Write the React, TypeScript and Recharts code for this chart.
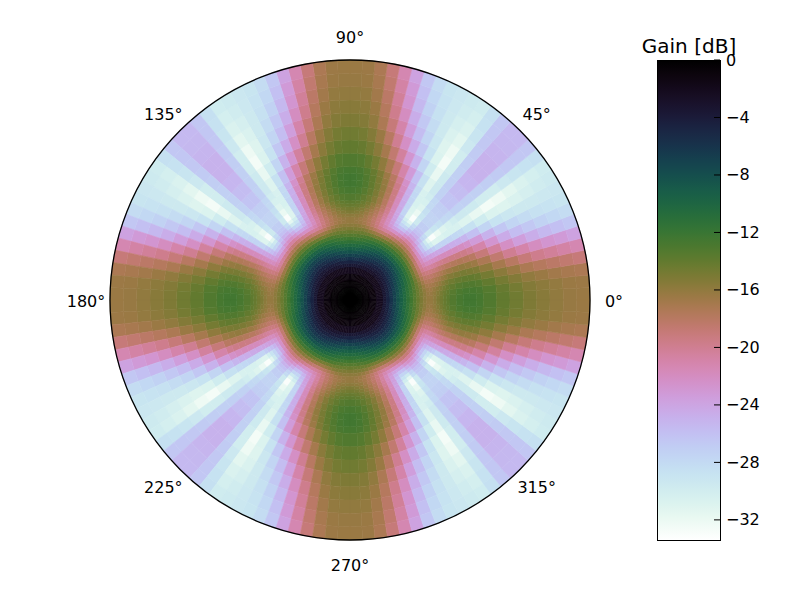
import React from 'react'
import {
  PieChart,
  Pie,
  Cell,
  RadarChart,
  PolarAngleAxis,
  PolarRadiusAxis,
  BarChart,
  Bar,
  XAxis,
  YAxis,
} from 'recharts'

const FONT = '"DejaVu Sans", sans-serif'
const CENTER_X = 350
const CENTER_Y = 300
const OUTER_RADIUS = 240

const GAIN_MIN = -33.4
const GAIN_MAX = 0

// tick labels
const angleTicks = [0, 45, 90, 135, 180, 225, 270, 315]
const radiusTicks = [10, 20, 30, 40, 50, 60, 70, 80, 90]
const gainTicks = [0, -4, -8, -12, -16, -20, -24, -28, -32]

// outer edge of each ring, in degrees off boresight
const ringEdges = [
  2.5, 5, 7.5, 10, 12.5,
  13.75, 15, 16.25, 17.5, 18.75, 20, 21.25, 22.5, 23.75, 25,
  26.25, 27.5, 28.75, 30, 31.25, 32.5, 33.75, 35, 36.25, 37.5,
  40, 42.5, 45, 47.5, 50,
  55, 60, 65, 70, 75, 80, 85, 90,
]

// width of one sector in degrees, the table covers 0-45 and the rest is mirrored
const SECTOR_SPAN = 3

// gain in dB, one row per ring, one column per sector from 0 to 45 deg
const ringGains = [
  [-0.02, -0.02, -0.02, -0.02, -0.02, -0.02, -0.02, -0.02, -0.02, -0.02, -0.02, -0.02, -0.02, -0.02, -0.02],
  [-0.15, -0.15, -0.15, -0.15, -0.15, -0.15, -0.15, -0.15, -0.15, -0.15, -0.15, -0.15, -0.15, -0.15, -0.15],
  [-0.4, -0.4, -0.4, -0.4, -0.4, -0.4, -0.4, -0.4, -0.4, -0.4, -0.4, -0.4, -0.4, -0.4, -0.4],
  [-1, -1, -1, -1, -1, -0.95, -0.95, -0.9, -0.9, -0.9, -0.85, -0.85, -0.85, -0.85, -0.85],
  [-2.2, -2.2, -2.2, -2.2, -2.15, -2.1, -2.1, -2.05, -2, -2, -1.95, -1.95, -1.9, -1.9, -1.9],
  [-3.6, -3.6, -3.55, -3.5, -3.45, -3.35, -3.3, -3.2, -3.1, -3.05, -2.95, -2.9, -2.85, -2.8, -2.8],
  [-4.7, -4.7, -4.65, -4.55, -4.45, -4.35, -4.2, -4.1, -4, -3.85, -3.75, -3.65, -3.6, -3.55, -3.5],
  [-5.9, -5.9, -5.8, -5.7, -5.6, -5.4, -5.25, -5.1, -4.95, -4.8, -4.6, -4.5, -4.4, -4.35, -4.3],
  [-7.1, -7.1, -7, -6.9, -6.7, -6.5, -6.35, -6.15, -6, -5.8, -5.6, -5.45, -5.35, -5.25, -5.2],
  [-8.3, -8.3, -8.2, -8, -7.85, -7.65, -7.4, -7.2, -7, -6.75, -6.55, -6.4, -6.25, -6.15, -6.1],
  [-9.4, -9.4, -9.3, -9.1, -8.95, -8.7, -8.5, -8.25, -8, -7.8, -7.55, -7.4, -7.25, -7.15, -7.1],
  [-10.4, -10.4, -10.3, -10.15, -9.95, -9.75, -9.5, -9.3, -9.1, -8.85, -8.65, -8.5, -8.35, -8.25, -8.2],
  [-11.4, -11.4, -11.3, -11.15, -11, -10.75, -10.55, -10.35, -10.15, -9.95, -9.75, -9.65, -9.6, -9.55, -9.55],
  [-12.4, -12.4, -12.3, -12.15, -12, -11.8, -11.65, -11.5, -11.35, -11.2, -11.1, -11, -10.95, -10.9, -10.9],
  [-13.4, -13.4, -13.3, -13.2, -13.1, -13, -12.9, -12.8, -12.7, -12.6, -12.5, -12.4, -12.35, -12.3, -12.3],
  [-14.3, -14.3, -14.3, -14.3, -14.4, -14.5, -14.7, -14.8, -14.7, -14.5, -14.3, -14.1, -14, -13.9, -13.8],
  [-15.1, -15.1, -15.1, -15.2, -15.5, -15.9, -16.2, -16.5, -16.5, -16.4, -16.2, -15.9, -15.7, -15.5, -15.4],
  [-15.8, -15.8, -15.9, -16.2, -16.7, -17.3, -17.9, -18.4, -18.6, -18.6, -18.3, -17.9, -17.6, -17.3, -17.1],
  [-16.2, -16.3, -16.5, -16.9, -17.5, -18.2, -19, -19.8, -20.3, -20.5, -20.3, -20, -19.6, -19.2, -18.9],
  [-16.2, -16.3, -16.6, -17, -17.6, -18.4, -19.3, -20.4, -21.3, -22, -22.3, -22.2, -21.8, -21, -20.6],
  [-15.8, -15.9, -16.2, -16.8, -17.5, -18.3, -19.3, -20.6, -21.9, -23, -23.8, -24.2, -23.8, -22.8, -22.2],
  [-15.2, -15.4, -15.8, -16.4, -17.1, -18, -19.1, -20.5, -22, -23.4, -25, -26, -25.8, -24.6, -23.7],
  [-14.7, -14.9, -15.3, -16, -16.8, -17.7, -18.9, -20.3, -21.9, -23.6, -25.8, -27.6, -27.5, -26, -25],
  [-14.2, -14.4, -14.8, -15.5, -16.3, -17.3, -18.5, -20, -21.9, -23.8, -26.2, -28.8, -29.5, -27.5, -26],
  [-13.8, -14, -14.4, -15, -15.9, -16.9, -18.2, -19.8, -21.8, -24, -26.8, -30, -31.5, -28.2, -26.5],
  [-13.3, -13.5, -14, -14.6, -15.4, -16.5, -17.9, -19.6, -21.8, -24.2, -27.5, -31, -33, -29.5, -27],
  [-12.8, -13, -13.5, -14.2, -15.1, -16.2, -17.7, -19.5, -21.8, -24.4, -27.5, -30.8, -32, -29, -27.5],
  [-12.5, -12.7, -13.2, -14, -14.9, -16, -17.5, -19.4, -21.8, -24.6, -27.6, -30.5, -31, -28.5, -27.5],
  [-12.5, -12.7, -13.2, -14, -15, -16.2, -17.7, -19.6, -22, -24.8, -27.8, -30.5, -30.5, -28, -27.2],
  [-12.7, -12.9, -13.4, -14.2, -15.2, -16.5, -18, -20, -22.4, -25.2, -28, -30.6, -30, -27.8, -27],
  [-13.2, -13.4, -14, -14.8, -15.9, -17.3, -19, -21, -23.3, -26, -28.6, -31, -29.5, -27.3, -26.3],
  [-14, -14.2, -14.8, -15.7, -17, -18.6, -20.5, -22.8, -25, -27.6, -29.8, -31.8, -29.6, -27.2, -25.8],
  [-14.6, -14.8, -15.4, -16.4, -18, -20, -22.2, -24.5, -26.5, -28.8, -30.8, -32.6, -30, -27.2, -25.3],
  [-15.2, -15.4, -16, -17.3, -19, -21, -23.5, -25.8, -27.6, -29.3, -31, -32.2, -30, -27, -25],
  [-15.6, -15.8, -16.4, -17.8, -19.8, -22, -24.6, -26.6, -28.2, -29.5, -30.7, -31.4, -29.4, -26.8, -25],
  [-16, -16.1, -16.8, -18.2, -20.3, -22.8, -25.4, -27.3, -28.6, -29.5, -30.3, -30.7, -29, -26.6, -25.2],
  [-16.3, -16.4, -17.1, -18.6, -20.8, -23.2, -26, -27.8, -28.8, -29.4, -29.9, -30.2, -28.7, -26.5, -25.4],
  [-16.4, -16.5, -17.3, -19, -21.3, -23.8, -26.5, -28.2, -29, -29.3, -29.6, -29.8, -28.5, -26.5, -25.5],
]

// cubehelix colormap, reversed so 0 dB is black
const gainColor = (gain: number) => {
  const level = Math.min(1, Math.max(0, (GAIN_MAX - gain) / (GAIN_MAX - GAIN_MIN)))
  const phi = 2 * Math.PI * (0.5 / 3 - 1.5 * level)
  const amp = (level * (1 - level)) / 2
  const channel = (p0: number, p1: number) => {
    const v = level + amp * (p0 * Math.cos(phi) + p1 * Math.sin(phi))
    return Math.round(255 * Math.min(1, Math.max(0, v)))
  }
  return `rgb(${channel(-0.14861, 1.78277)}, ${channel(-0.29227, -0.90649)}, ${channel(1.97294, 0)})`
}

// one octant mirrored out to the full circle
const fullCircle = (octant: number[]) => {
  const quarter = [...octant, ...[...octant].reverse()]
  return [...quarter, ...quarter, ...quarter, ...quarter].map((gain) => ({ gain, span: SECTOR_SPAN }))
}

const AngleTick = ({ x, y, payload }: any) => (
  <text
    x={x}
    y={y + 1}
    textAnchor="middle"
    dominantBaseline="central"
    fontFamily={FONT}
    fontSize={16}
    fill="#000"
  >
    {payload.value}°
  </text>
)

const RadiusTick = ({ x, y, payload }: any) => (
  <text x={x + 1} y={y + 1} textAnchor="start" fontFamily={FONT} fontSize={16} fill="#000">
    {payload.value}
  </text>
)

const GainTick = ({ x, y, payload }: any) => (
  <text x={x} y={y} textAnchor="start" dominantBaseline="central" fontFamily={FONT} fontSize={16} fill="#000">
    {String(payload.value).replace('-', '\u2212')}
  </text>
)

const angleData = angleTicks.map((angle) => ({ angle }))
const colorbarData = [{ name: 'gain', gain: GAIN_MIN }]
const colorbarStops = Array.from({ length: 68 }, (_, i) => i / 67)
const NO_MARGIN = { top: 0, right: 0, bottom: 0, left: 0 }

export default function App() {
  return (
    <div style={{ position: 'absolute', left: 0, top: 0, width: 800, height: 600, background: '#fff' }}>
      <div style={{ position: 'absolute', left: 0, top: 0 }}>
        <PieChart width={800} height={600} margin={NO_MARGIN}>
          {ringGains.map((octant, i) => {
            const cells = fullCircle(octant)
            return (
              <Pie
                key={i}
                data={cells}
                dataKey="span"
                cx={CENTER_X}
                cy={CENTER_Y}
                innerRadius={i === 0 ? 0 : (ringEdges[i - 1] / 90) * OUTER_RADIUS}
                outerRadius={(ringEdges[i] / 90) * OUTER_RADIUS}
                startAngle={0}
                endAngle={360}
                paddingAngle={0}
                labelLine={false}
                legendType="none"
                isAnimationActive={false}
              >
                {cells.map((cell, j) => (
                  <Cell key={j} fill={gainColor(cell.gain)} stroke={gainColor(cell.gain)} strokeWidth={0.6} />
                ))}
              </Pie>
            )
          })}
        </PieChart>
      </div>
      <div style={{ position: 'absolute', left: 0, top: 0 }}>
        <RadarChart
          width={800}
          height={600}
          margin={NO_MARGIN}
          data={angleData}
          cx={CENTER_X}
          cy={CENTER_Y}
          innerRadius={0}
          outerRadius={OUTER_RADIUS}
          startAngle={45}
          endAngle={405}
        >
          <PolarAngleAxis
            dataKey="angle"
            tick={AngleTick}
            tickLine={false}
            tickSize={24}
            axisLine={{ stroke: '#000', strokeWidth: 1.3 }}
            axisLineType="circle"
          />
          <PolarRadiusAxis
            type="number"
            angle={22.5}
            domain={[0, 90]}
            ticks={radiusTicks as any}
            tick={RadiusTick}
            tickLine={false}
            axisLine={false}
          />
        </RadarChart>
      </div>
      <div style={{ position: 'absolute', left: 0, top: 0 }}>
        <BarChart
          width={800}
          height={600}
          data={colorbarData}
          margin={{ top: 60, bottom: 60, left: 657, right: 20 }}
          barCategoryGap={0}
        >
          <defs>
            <linearGradient id="gainRamp" x1="0" y1="0" x2="0" y2="1">
              {colorbarStops.map((stop) => (
                <stop
                  key={stop}
                  offset={`${stop * 100}%`}
                  stopColor={gainColor(GAIN_MAX + (GAIN_MIN - GAIN_MAX) * stop)}
                />
              ))}
            </linearGradient>
          </defs>
          <XAxis dataKey="name" hide />
          <Bar
            dataKey="gain"
            fill="url(#gainRamp)"
            stroke="#000"
            strokeWidth={1}
            shapeRendering="crispEdges"
            isAnimationActive={false}
          />
          <YAxis
            orientation="right"
            type="number"
            width={60}
            domain={[GAIN_MIN, GAIN_MAX]}
            ticks={gainTicks}
            tick={GainTick}
            tickSize={-6}
            tickMargin={12}
            tickLine={{ stroke: '#000' }}
            axisLine={false}
          />
          <text x={689} y={53} textAnchor="middle" fontFamily={FONT} fontSize={20} fill="#000">
            Gain [dB]
          </text>
        </BarChart>
      </div>
    </div>
  )
}
